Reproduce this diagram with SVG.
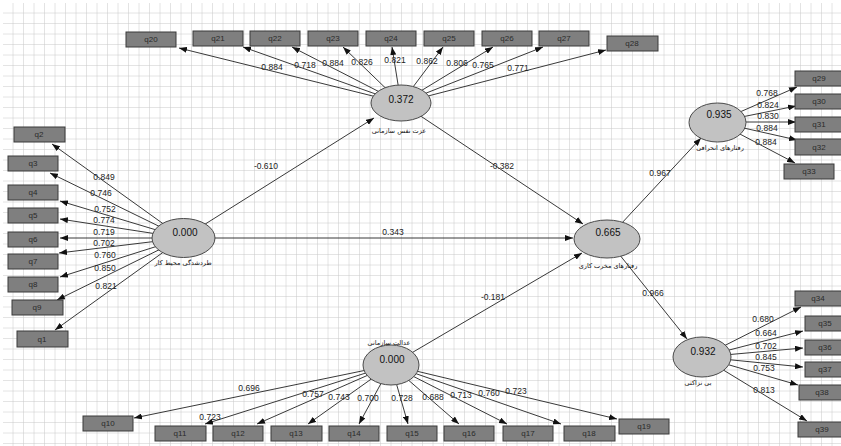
<svg xmlns="http://www.w3.org/2000/svg" width="841" height="446" viewBox="0 0 841 446">
<defs>
<pattern id="grid" x="3" y="3" width="10.5" height="10.5" patternUnits="userSpaceOnUse">
<path d="M10.5 0 V10.5 M0 10.5 H10.5" fill="none" stroke="#c8c8c8" stroke-width="1"/>
</pattern>
<marker id="ah" markerUnits="userSpaceOnUse" markerWidth="8" markerHeight="6" refX="8" refY="3" orient="auto">
<path d="M0,0 L8,3 L0,6 z" fill="#111"/>
</marker>
</defs>
<style>
.box{fill:#7f7f7f;stroke:#3a3a3a;stroke-width:1}
.bt{font-family:"Liberation Sans",Arial,sans-serif;font-size:8px;fill:#2a2a2a;text-anchor:middle}
.ell{fill:#c2c2c2;stroke:#4a4a4a;stroke-width:1}
.et{font-family:"Liberation Sans",Arial,sans-serif;font-size:10px;fill:#111;text-anchor:middle}
.fa{font-family:"DejaVu Sans","Noto Sans",sans-serif;font-size:6.5px;fill:#111;text-anchor:middle}
.lb{font-family:"Liberation Sans",Arial,sans-serif;font-size:8.5px;fill:#222;text-anchor:middle}
.ln{stroke:#222;stroke-width:0.9;fill:none;marker-end:url(#ah)}
</style>
<rect width="841" height="446" fill="#fff"/>
<rect x="3" y="3" width="838" height="443" fill="url(#grid)"/>
<g id="connectors">
<line class="ln" x1="401" y1="103" x2="179" y2="48"/>
<line class="ln" x1="401" y1="103" x2="243" y2="47"/>
<line class="ln" x1="401" y1="103" x2="292" y2="47"/>
<line class="ln" x1="401" y1="103" x2="343" y2="47"/>
<line class="ln" x1="401" y1="103" x2="392" y2="47"/>
<line class="ln" x1="401" y1="103" x2="443" y2="47"/>
<line class="ln" x1="401" y1="103" x2="493" y2="47"/>
<line class="ln" x1="401" y1="103" x2="543" y2="47"/>
<line class="ln" x1="401" y1="103" x2="606" y2="50"/>
<line class="ln" x1="183" y1="238" x2="52" y2="144"/>
<line class="ln" x1="183" y1="238" x2="50" y2="173"/>
<line class="ln" x1="183" y1="238" x2="60" y2="201"/>
<line class="ln" x1="183" y1="238" x2="60" y2="219"/>
<line class="ln" x1="183" y1="238" x2="60" y2="238"/>
<line class="ln" x1="183" y1="238" x2="59" y2="253"/>
<line class="ln" x1="183" y1="238" x2="60" y2="277"/>
<line class="ln" x1="183" y1="238" x2="57" y2="300"/>
<line class="ln" x1="183" y1="238" x2="55" y2="330"/>
<line class="ln" x1="717" y1="122" x2="797" y2="87"/>
<line class="ln" x1="717" y1="122" x2="796" y2="106"/>
<line class="ln" x1="717" y1="122" x2="796" y2="122"/>
<line class="ln" x1="717" y1="122" x2="797" y2="140"/>
<line class="ln" x1="717" y1="122" x2="795" y2="163"/>
<line class="ln" x1="702" y1="357" x2="801" y2="307"/>
<line class="ln" x1="702" y1="357" x2="803" y2="331"/>
<line class="ln" x1="702" y1="357" x2="803" y2="348"/>
<line class="ln" x1="702" y1="357" x2="803" y2="367"/>
<line class="ln" x1="702" y1="357" x2="798" y2="385"/>
<line class="ln" x1="702" y1="357" x2="807" y2="421"/>
<line class="ln" x1="391" y1="365" x2="134" y2="418"/>
<line class="ln" x1="391" y1="365" x2="205" y2="424"/>
<line class="ln" x1="391" y1="365" x2="257" y2="424"/>
<line class="ln" x1="391" y1="365" x2="308" y2="424"/>
<line class="ln" x1="391" y1="365" x2="359" y2="424"/>
<line class="ln" x1="391" y1="365" x2="408" y2="424"/>
<line class="ln" x1="391" y1="365" x2="459" y2="424"/>
<line class="ln" x1="391" y1="365" x2="507" y2="424"/>
<line class="ln" x1="391" y1="365" x2="561" y2="424"/>
<line class="ln" x1="391" y1="365" x2="617" y2="419"/>
<line class="ln" x1="183" y1="238" x2="374" y2="118"/>
<line class="ln" x1="183" y1="238" x2="573" y2="238"/>
<line class="ln" x1="401" y1="103" x2="583" y2="224"/>
<line class="ln" x1="391" y1="365" x2="582" y2="253"/>
<line class="ln" x1="607" y1="239" x2="701" y2="138"/>
<line class="ln" x1="607" y1="239" x2="687" y2="339"/>
</g>
<g id="loadings">
<text class="lb" x="272" y="70">0.884</text>
<text class="lb" x="305" y="68">0.718</text>
<text class="lb" x="333" y="66">0.884</text>
<text class="lb" x="362" y="65">0.826</text>
<text class="lb" x="395" y="63">0.821</text>
<text class="lb" x="427" y="64">0.862</text>
<text class="lb" x="457" y="66">0.806</text>
<text class="lb" x="483" y="68">0.765</text>
<text class="lb" x="518" y="71">0.771</text>
<text class="lb" x="104" y="180">0.849</text>
<text class="lb" x="101" y="196">0.746</text>
<text class="lb" x="105" y="212">0.752</text>
<text class="lb" x="104" y="223">0.774</text>
<text class="lb" x="104" y="235">0.719</text>
<text class="lb" x="104" y="246">0.702</text>
<text class="lb" x="105" y="258">0.760</text>
<text class="lb" x="105" y="271">0.850</text>
<text class="lb" x="106" y="289">0.821</text>
<text class="lb" x="767" y="96">0.768</text>
<text class="lb" x="768" y="108">0.824</text>
<text class="lb" x="768" y="119">0.830</text>
<text class="lb" x="767" y="131">0.884</text>
<text class="lb" x="766" y="145">0.884</text>
<text class="lb" x="763" y="322">0.680</text>
<text class="lb" x="766" y="336">0.664</text>
<text class="lb" x="766" y="349">0.702</text>
<text class="lb" x="766" y="360">0.845</text>
<text class="lb" x="764" y="371">0.753</text>
<text class="lb" x="764" y="393">0.813</text>
<text class="lb" x="249" y="391">0.696</text>
<text class="lb" x="210" y="420">0.723</text>
<text class="lb" x="313" y="397">0.757</text>
<text class="lb" x="339" y="400">0.743</text>
<text class="lb" x="368" y="401">0.700</text>
<text class="lb" x="402" y="401">0.728</text>
<text class="lb" x="433" y="400">0.688</text>
<text class="lb" x="461" y="398">0.713</text>
<text class="lb" x="489" y="396">0.760</text>
<text class="lb" x="516" y="394">0.723</text>
<text class="lb" x="266" y="169">-0.610</text>
<text class="lb" x="393" y="235">0.343</text>
<text class="lb" x="502" y="169">-0.382</text>
<text class="lb" x="493" y="300">-0.181</text>
<text class="lb" x="660" y="176">0.967</text>
<text class="lb" x="653" y="296">0.966</text>
</g>
<g id="n-q20"><rect class="box" x="126" y="32" width="50" height="15"/><text class="bt" x="151" y="42">q20</text></g>
<g id="n-q21"><rect class="box" x="193" y="31" width="50" height="15"/><text class="bt" x="218" y="41">q21</text></g>
<g id="n-q22"><rect class="box" x="250" y="31" width="50" height="15"/><text class="bt" x="275" y="41">q22</text></g>
<g id="n-q23"><rect class="box" x="308" y="31" width="50" height="15"/><text class="bt" x="333" y="41">q23</text></g>
<g id="n-q24"><rect class="box" x="366" y="31" width="50" height="15"/><text class="bt" x="391" y="41">q24</text></g>
<g id="n-q25"><rect class="box" x="424" y="31" width="50" height="15"/><text class="bt" x="449" y="41">q25</text></g>
<g id="n-q26"><rect class="box" x="482" y="31" width="50" height="15"/><text class="bt" x="507" y="41">q26</text></g>
<g id="n-q27"><rect class="box" x="539" y="31" width="50" height="15"/><text class="bt" x="564" y="41">q27</text></g>
<g id="n-q28"><rect class="box" x="607" y="36" width="51" height="15"/><text class="bt" x="632" y="46">q28</text></g>
<g id="n-q2"><rect class="box" x="14" y="127" width="51" height="15"/><text class="bt" x="39" y="137">q2</text></g>
<g id="n-q3"><rect class="box" x="8" y="156" width="50" height="15"/><text class="bt" x="33" y="166">q3</text></g>
<g id="n-q4"><rect class="box" x="8" y="185" width="50" height="15"/><text class="bt" x="33" y="195">q4</text></g>
<g id="n-q5"><rect class="box" x="8" y="208" width="50" height="15"/><text class="bt" x="33" y="218">q5</text></g>
<g id="n-q6"><rect class="box" x="8" y="232" width="50" height="15"/><text class="bt" x="33" y="242">q6</text></g>
<g id="n-q7"><rect class="box" x="8" y="254" width="50" height="15"/><text class="bt" x="33" y="264">q7</text></g>
<g id="n-q8"><rect class="box" x="8" y="277" width="50" height="15"/><text class="bt" x="33" y="287">q8</text></g>
<g id="n-q9"><rect class="box" x="12" y="300" width="51" height="15"/><text class="bt" x="37" y="310">q9</text></g>
<g id="n-q1"><rect class="box" x="17" y="331" width="51" height="16"/><text class="bt" x="42" y="342">q1</text></g>
<g id="n-q29"><rect class="box" x="795" y="71" width="50" height="15"/><text class="bt" x="819" y="81">q29</text></g>
<g id="n-q30"><rect class="box" x="795" y="94" width="50" height="15"/><text class="bt" x="819" y="104">q30</text></g>
<g id="n-q31"><rect class="box" x="795" y="117" width="50" height="15"/><text class="bt" x="819" y="127">q31</text></g>
<g id="n-q32"><rect class="box" x="795" y="139" width="50" height="16"/><text class="bt" x="819" y="150">q32</text></g>
<g id="n-q33"><rect class="box" x="784" y="164" width="50" height="15"/><text class="bt" x="809" y="174">q33</text></g>
<g id="n-q34"><rect class="box" x="795" y="291" width="50" height="15"/><text class="bt" x="818" y="301">q34</text></g>
<g id="n-q35"><rect class="box" x="805" y="316" width="50" height="15"/><text class="bt" x="825" y="326">q35</text></g>
<g id="n-q36"><rect class="box" x="805" y="340" width="50" height="15"/><text class="bt" x="825" y="350">q36</text></g>
<g id="n-q37"><rect class="box" x="805" y="362" width="50" height="15"/><text class="bt" x="825" y="372">q37</text></g>
<g id="n-q38"><rect class="box" x="799" y="385" width="50" height="15"/><text class="bt" x="822" y="395">q38</text></g>
<g id="n-q39"><rect class="box" x="798" y="422" width="50" height="15"/><text class="bt" x="822" y="432">q39</text></g>
<g id="n-q10"><rect class="box" x="83" y="416" width="50" height="15"/><text class="bt" x="108" y="426">q10</text></g>
<g id="n-q11"><rect class="box" x="155" y="426" width="51" height="15"/><text class="bt" x="180" y="436">q11</text></g>
<g id="n-q12"><rect class="box" x="213" y="426" width="50" height="15"/><text class="bt" x="238" y="436">q12</text></g>
<g id="n-q13"><rect class="box" x="271" y="426" width="51" height="15"/><text class="bt" x="296" y="436">q13</text></g>
<g id="n-q14"><rect class="box" x="329" y="426" width="50" height="15"/><text class="bt" x="354" y="436">q14</text></g>
<g id="n-q15"><rect class="box" x="387" y="426" width="50" height="15"/><text class="bt" x="412" y="436">q15</text></g>
<g id="n-q16"><rect class="box" x="444" y="426" width="50" height="15"/><text class="bt" x="469" y="436">q16</text></g>
<g id="n-q17"><rect class="box" x="503" y="426" width="50" height="15"/><text class="bt" x="528" y="436">q17</text></g>
<g id="n-q18"><rect class="box" x="564" y="426" width="51" height="15"/><text class="bt" x="589" y="436">q18</text></g>
<g id="n-q19"><rect class="box" x="619" y="419" width="50" height="15"/><text class="bt" x="644" y="429">q19</text></g>
<g id="n-esteem"><ellipse class="ell" cx="401" cy="103" rx="30" ry="18"/><text class="et" x="401" y="103">0.372</text><text class="fa" x="399" y="133">عزت نفس سازمانی</text></g>
<g id="n-ostracism"><ellipse class="ell" cx="183.5" cy="238" rx="31.5" ry="19.5"/><text class="et" x="185" y="236">0.000</text><text class="fa" x="183" y="265">طردشدگی محیط کار</text></g>
<g id="n-cwb"><ellipse class="ell" cx="607" cy="239" rx="33" ry="19"/><text class="et" x="608" y="236">0.665</text><text class="fa" x="608" y="268">رفتارهای مخرب کاری</text></g>
<g id="n-deviance"><ellipse class="ell" cx="717.5" cy="122.5" rx="28.5" ry="19.5"/><text class="et" x="719" y="118">0.935</text><text class="fa" x="720" y="150">رفتارهای انحرافی</text></g>
<g id="n-incivility"><ellipse class="ell" cx="702" cy="357" rx="29" ry="20"/><text class="et" x="703" y="355">0.932</text><text class="fa" x="698" y="385">بی نزاکتی</text></g>
<g id="n-justice"><ellipse class="ell" cx="391" cy="365" rx="28" ry="20"/><text class="et" x="392" y="363">0.000</text><text class="fa" x="389" y="345">عدالت سازمانی</text></g>
</svg>
